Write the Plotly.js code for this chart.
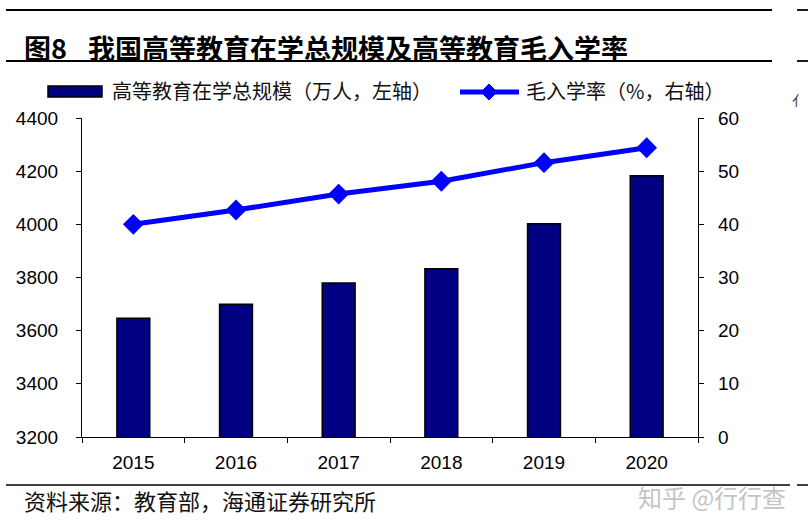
<!DOCTYPE html>
<html>
<head>
<meta charset="utf-8">
<script src="https://cdn.plot.ly/plotly-3.0.1.min.js"></script>
<style>
  html, body { margin: 0; padding: 0; background: #fff; }
  #chart { width: 808px; height: 529px; }
</style>
</head>
<body>
<div id="chart"></div>
<script>
const years = ["2015", "2016", "2017", "2018", "2019", "2020"];
const enrolment = [3647, 3699, 3779, 3833, 4002, 4183]; // 万人, left axis
const grossRate = [40.0, 42.7, 45.7, 48.1, 51.6, 54.4]; // %, right axis
const leftTicks = [3200, 3400, 3600, 3800, 4000, 4200, 4400];
const rightTicks = [0, 10, 20, 30, 40, 50, 60];

const W = 808, H = 529;
const M = { l: 82, r: 110, t: 118, b: 92 };
const pw = W - M.l - M.r, ph = H - M.t - M.b;
const px = (x) => (x - M.l) / pw;
const py = (y) => (H - M.b - y) / ph;

const cjk = '"Noto Sans CJK SC", "Noto Sans", sans-serif';
const latin = '"Liberation Sans", Arial, sans-serif';

function hline(x0, x1, y, width) {
  return { type: "line", xref: "paper", yref: "paper", x0: px(x0), x1: px(x1), y0: py(y), y1: py(y),
    line: { color: "#000", width: width || 1.5 } };
}

function note(text, x, y, size, opts) {
  return Object.assign({
    text, xref: "paper", yref: "paper", x: px(x), y: py(y),
    xanchor: "left", yanchor: "middle", showarrow: false,
    font: { family: cjk, size, color: "#111" },
  }, opts || {});
}

const traces = [
  {
    type: "bar", x: years, y: enrolment, yaxis: "y",
    marker: { color: "#000080", line: { color: "#000", width: 1.5 } },
    hoverinfo: "x+y",
  },
  {
    type: "scatter", mode: "lines+markers", x: years, y: grossRate, yaxis: "y2",
    line: { color: "#0000ff", width: 5 },
    marker: { symbol: "diamond", size: 16, color: "#0000ff" },
    hoverinfo: "x+y",
  },
];

const titleFont = { family: cjk, size: 27, color: "#000" };

const layout = {
  width: W, height: H,
  margin: M,
  paper_bgcolor: "#fff", plot_bgcolor: "#fff",
  showlegend: false,
  bargap: 0.68,
  font: { family: latin, size: 19, color: "#000" },
  xaxis: {
    type: "category", showline: true, linecolor: "#000", linewidth: 1.2,
    ticks: "outside", tickson: "boundaries", ticklen: 5, tickcolor: "#000",
    showgrid: false, ticklabelstandoff: 8,
    tickfont: { family: latin, size: 19, color: "#000" },
  },
  yaxis: {
    range: [3200, 4400], tickvals: leftTicks, showline: true, linecolor: "#000", linewidth: 1.2,
    ticks: "outside", ticklen: 5, tickcolor: "#000", showgrid: false, zeroline: false,
    ticklabelstandoff: 14, tickfont: { family: latin, size: 19, color: "#000" },
  },
  yaxis2: {
    overlaying: "y", side: "right", range: [0, 60], tickvals: rightTicks,
    showline: true, linecolor: "#000", linewidth: 1.2,
    ticks: "outside", ticklen: 5, tickcolor: "#000", showgrid: false, zeroline: false,
    ticklabelstandoff: 10, tickfont: { family: latin, size: 19, color: "#000" },
  },
  shapes: [
    hline(6, 772, 10, 1.8),
    hline(797, 808, 10, 1.8),
    hline(6, 772, 61, 1.8),
    hline(797, 808, 61, 1.8),
    hline(6, 790, 485, 1.5),
    hline(797, 808, 485, 1.5),
    // legend swatches
    { type: "rect", xref: "paper", yref: "paper", x0: px(48), x1: px(102), y0: py(97), y1: py(86),
      fillcolor: "#000080", line: { color: "#000", width: 1.5 } },
    { type: "line", xref: "paper", yref: "paper", x0: px(460), x1: px(519), y0: py(92), y1: py(92),
      line: { color: "#0000ff", width: 5 } },
    { type: "path", xref: "paper", yref: "paper",
      path: `M ${px(481)} ${py(92)} L ${px(489)} ${py(84)} L ${px(497)} ${py(92)} L ${px(489)} ${py(100)} Z`,
      fillcolor: "#0000ff", line: { color: "#0000ff", width: 1 } },
  ],
  annotations: [
    note("<b>图8</b>", 22, 47, 27, { font: titleFont }),
    note("<b>我国高等教育在学总规模及高等教育毛入学率</b>", 86, 47, 27, { font: titleFont }),
    note("高等教育在学总规模（万人，左轴）", 110, 91, 20),
    note("毛入学率（%，右轴）", 524, 91, 20),
    note("资料来源：教育部，海通证券研究所", 22, 500, 22),
    note("知乎 @行行查", 636, 496, 24, { font: { family: cjk, size: 24, color: "#c4c4c4" } }),
    note("亻", 808, 100, 14, { xanchor: "right", font: { family: cjk, size: 14, color: "#333" } }),
  ],
};

Plotly.newPlot("chart", traces, layout, { displayModeBar: false, responsive: false });
</script>
</body>
</html>
